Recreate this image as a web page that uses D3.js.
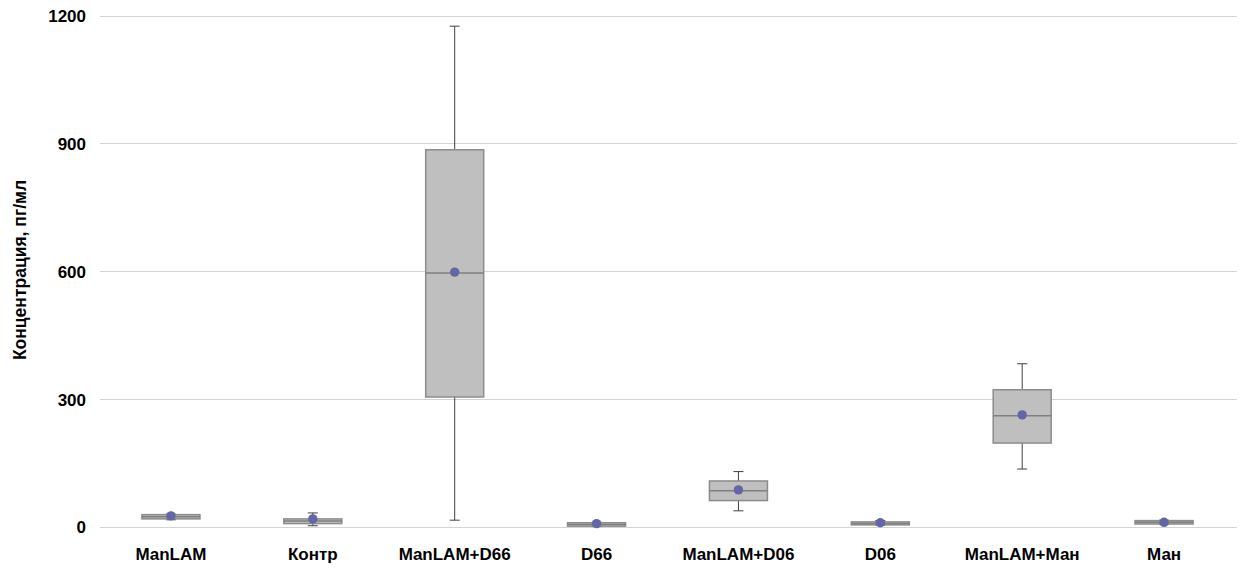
<html>
<head>
<meta charset="utf-8">
<style>
    body { margin: 0; background: #fff; }
    svg text { font-family: "Liberation Sans", Arial, sans-serif; font-weight: bold; fill: #000; }
    .grid line { stroke: #d4d4d4; stroke-width: 1; }
</style>
</head>
<body>
<svg class="chart" width="1243" height="572"></svg>
<script src="https://d3js.org/d3.v7.min.js"></script>
<script>
// values
var categories = ["ManLAM", "Контр", "ManLAM+D66", "D66", "ManLAM+D06", "D06", "ManLAM+Ман", "Ман"];
var whiskerLow  = [17, 3, 16, 1, 38, 4, 136, 6];
var q1          = [19, 8, 305, 2, 62, 5, 197, 7];
var median      = [24, 14, 596, 6, 85, 8, 261, 11];
var q3          = [29, 19, 885, 10, 108, 12, 322, 15];
var whiskerHigh = [30, 33, 1175, 11, 130, 15, 383, 16];
var means       = [26, 19, 598, 8, 87, 10, 263, 11];
var yTicks = [0, 300, 600, 900, 1200];

var boxes = categories.map(function(c, i) {
    return { name: c, lo: whiskerLow[i], q1: q1[i], med: median[i], q3: q3[i], hi: whiskerHigh[i], mean: means[i] };
});

var svg = d3.select('.chart');
var plotLeft = 100, plotRight = 1235, plotTop = 15.5, plotBottom = 527;

var x = d3.scaleBand().domain(categories).range([plotLeft, plotRight]);
var y = d3.scaleLinear().domain([0, 1200]).range([plotBottom, plotTop]);
var boxW = 58;

// grid
svg.append('g').attr('class', 'grid')
    .selectAll('line').data(yTicks).enter().append('line')
    .attr('x1', plotLeft).attr('x2', 1237)
    .attr('y1', function(d) { return Math.round(y(d)) + 0.5; })
    .attr('y2', function(d) { return Math.round(y(d)) + 0.5; });

// y axis labels
var yAxis = svg.append('g')
    .attr('transform', 'translate(' + (plotLeft - 14) + ',0)')
    .call(d3.axisLeft(y).tickValues(yTicks).tickFormat(d3.format('d')).tickSize(0).tickPadding(0));
yAxis.select('.domain').remove();
yAxis.selectAll('text').style('font-size', '17px').attr('dy', '0.35em')
    .style('font-family', '"Liberation Sans", Arial, sans-serif').style('font-weight', 'bold').attr('fill', '#000');

// x axis labels
var xAxis = svg.append('g')
    .attr('transform', 'translate(0,' + plotBottom + ')')
    .call(d3.axisBottom(x).tickSize(0).tickPadding(21));
xAxis.select('.domain').remove();
xAxis.selectAll('text').style('font-size', '17px').attr('dy', '0.71em')
    .style('font-family', '"Liberation Sans", Arial, sans-serif').style('font-weight', 'bold').attr('fill', '#000');

// axis title
svg.append('text')
    .attr('transform', 'translate(26,270) rotate(-90)')
    .attr('text-anchor', 'middle')
    .style('font-size', '17.5px')
    .text('Концентрация, пг/мл');

var g = svg.selectAll('.box').data(boxes).enter().append('g')
    .attr('class', 'box')
    .attr('transform', function(d) { return 'translate(' + (x(d.name) + x.bandwidth() / 2) + ',0)'; });

// whiskers
g.append('line').attr('x1', 0).attr('x2', 0)
    .attr('y1', function(d) { return y(d.hi); }).attr('y2', function(d) { return y(d.q3); })
    .attr('stroke', '#404040');
g.append('line').attr('x1', 0).attr('x2', 0)
    .attr('y1', function(d) { return y(d.q1); }).attr('y2', function(d) { return y(d.lo); })
    .attr('stroke', '#404040');
g.append('line').attr('x1', -5).attr('x2', 5)
    .attr('y1', function(d) { return y(d.hi); }).attr('y2', function(d) { return y(d.hi); })
    .attr('stroke', '#404040');
g.append('line').attr('x1', -5).attr('x2', 5)
    .attr('y1', function(d) { return y(d.lo); }).attr('y2', function(d) { return y(d.lo); })
    .attr('stroke', '#404040');

// box
g.append('rect')
    .attr('x', -boxW / 2).attr('width', boxW)
    .attr('y', function(d) { return y(d.q3); })
    .attr('height', function(d) { return Math.max(2, y(d.q1) - y(d.q3)); })
    .attr('fill', '#bfbfbf').attr('stroke', '#8c8c8c').attr('stroke-width', 1.5);

// median
g.append('line').attr('x1', -boxW / 2).attr('x2', boxW / 2)
    .attr('y1', function(d) { return y(d.med); }).attr('y2', function(d) { return y(d.med); })
    .attr('stroke', '#7f7f7f').attr('stroke-width', 1.5);

// mean
g.append('circle')
    .attr('cy', function(d) { return y(d.mean); })
    .attr('r', 4.7)
    .attr('fill', '#6465a5');
</script>
</body>
</html>
